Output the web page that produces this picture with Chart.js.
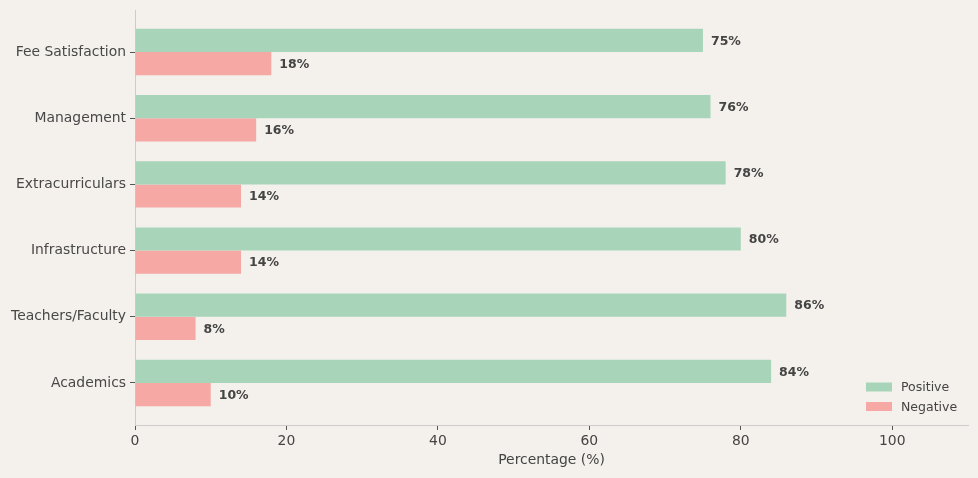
<!DOCTYPE html>
<html>
<head>
<meta charset="utf-8">
<script src="https://cdn.jsdelivr.net/npm/chart.js@4"></script>
<style>
  html, body { margin: 0; padding: 0; background: #f4f0ec; }
  #wrap { width: 978px; height: 478px; }
</style>
</head>
<body>
<div id="wrap"><canvas id="c" width="978" height="478"></canvas></div>
<script>
const categories = ["Fee Satisfaction", "Management", "Extracurriculars", "Infrastructure", "Teachers/Faculty", "Academics"];
const positive = [75, 76, 78, 80, 86, 84];
const negative = [18, 16, 14, 14, 8, 10];
const xTicks = [0, 20, 40, 60, 80, 100];
const seriesNames = ["Positive", "Negative"];
const seriesColors = ["#a8d5ba", "#f5a8a4"];

const FONT = "'DejaVu Sans', sans-serif";

const bgPlugin = {
  id: 'bg',
  beforeDraw(chart) {
    const ctx = chart.ctx;
    ctx.save();
    ctx.fillStyle = '#f4f0ec';
    ctx.fillRect(0, 0, chart.width, chart.height);
    ctx.restore();
  }
};

const labelPlugin = {
  id: 'valueLabels',
  afterDatasetsDraw(chart) {
    const ctx = chart.ctx;
    ctx.save();
    ctx.font = "bold 12.5px " + FONT;
    ctx.fillStyle = '#444444';
    ctx.textBaseline = 'middle';
    ctx.textAlign = 'left';
    chart.data.datasets.forEach((ds, i) => {
      const meta = chart.getDatasetMeta(i);
      meta.data.forEach((el, j) => {
        ctx.fillText(ds.data[j].x + '%', el.x + 8, el.y + 1);
      });
    });
    ctx.restore();
  }
};

const legendPlugin = {
  id: 'customLegend',
  afterDraw(chart) {
    const ctx = chart.ctx;
    const a = chart.chartArea;
    ctx.save();
    ctx.font = "12.5px " + FONT;
    ctx.textBaseline = 'middle';
    ctx.textAlign = 'left';
    const x0 = a.right - 102;
    const y0 = a.bottom - 38;
    seriesNames.forEach((n, i) => {
      const y = y0 + i * 19.5;
      ctx.fillStyle = seriesColors[i];
      ctx.fillRect(x0, y - 4.5, 26, 9);
      ctx.fillStyle = '#444444';
      ctx.fillText(n, x0 + 35, y + 1);
    });
    ctx.restore();
  }
};

const datasets = seriesNames.map((name, s) => ({
  label: name,
  data: (s === 0 ? positive : negative).map((v, i) => ({ x: v, y: i })),
  backgroundColor: seriesColors[s],
  borderWidth: 0,
  categoryPercentage: 0.7,
  barPercentage: 1.0
}));

new Chart(document.getElementById('c'), {
  type: 'bar',
  data: { datasets },
  options: {
    indexAxis: 'y',
    responsive: false,
    animation: false,
    devicePixelRatio: 1,
    layout: { padding: { top: 10, right: 10, left: 0, bottom: 9 } },
    plugins: {
      legend: { display: false },
      tooltip: { enabled: false }
    },
    scales: {
      y: {
        type: 'linear',
        reverse: true,
        offset: false,
        min: -0.635,
        max: 5.635,
        afterBuildTicks(scale) {
          scale.ticks = categories.map((c, i) => ({ value: i }));
        },
        afterFit(scale) {
          scale.width = 135;
          scale.paddingTop = 0;
          scale.paddingBottom = 0;
        },
        ticks: {
          callback: (v) => categories[v],
          color: '#484848',
          font: { family: FONT, size: 13.9 },
          padding: 4
        },
        grid: {
          offset: false,
          drawOnChartArea: false,
          drawTicks: true,
          tickLength: 5,
          tickColor: '#555555',
          tickWidth: 1
        },
        border: { color: '#cccccc', width: 1 }
      },
      x: {
        type: 'linear',
        min: 0,
        max: 110,
        afterBuildTicks(scale) {
          scale.ticks = xTicks.map(v => ({ value: v }));
        },
        afterFit(scale) { scale.height = 44; },
        ticks: {
          color: '#444444',
          font: { family: FONT, size: 13.9 },
          padding: 3,
          maxRotation: 0
        },
        grid: {
          drawOnChartArea: false,
          drawTicks: true,
          tickLength: 5,
          tickColor: '#555555',
          tickWidth: 1
        },
        border: { color: '#cccccc', width: 1 },
        title: {
          display: true,
          text: 'Percentage (%)',
          color: '#444444',
          font: { family: FONT, size: 13.9 },
          padding: { top: 4, bottom: 0 }
        }
      }
    }
  },
  plugins: [bgPlugin, labelPlugin, legendPlugin]
});
</script>
</body>
</html>
